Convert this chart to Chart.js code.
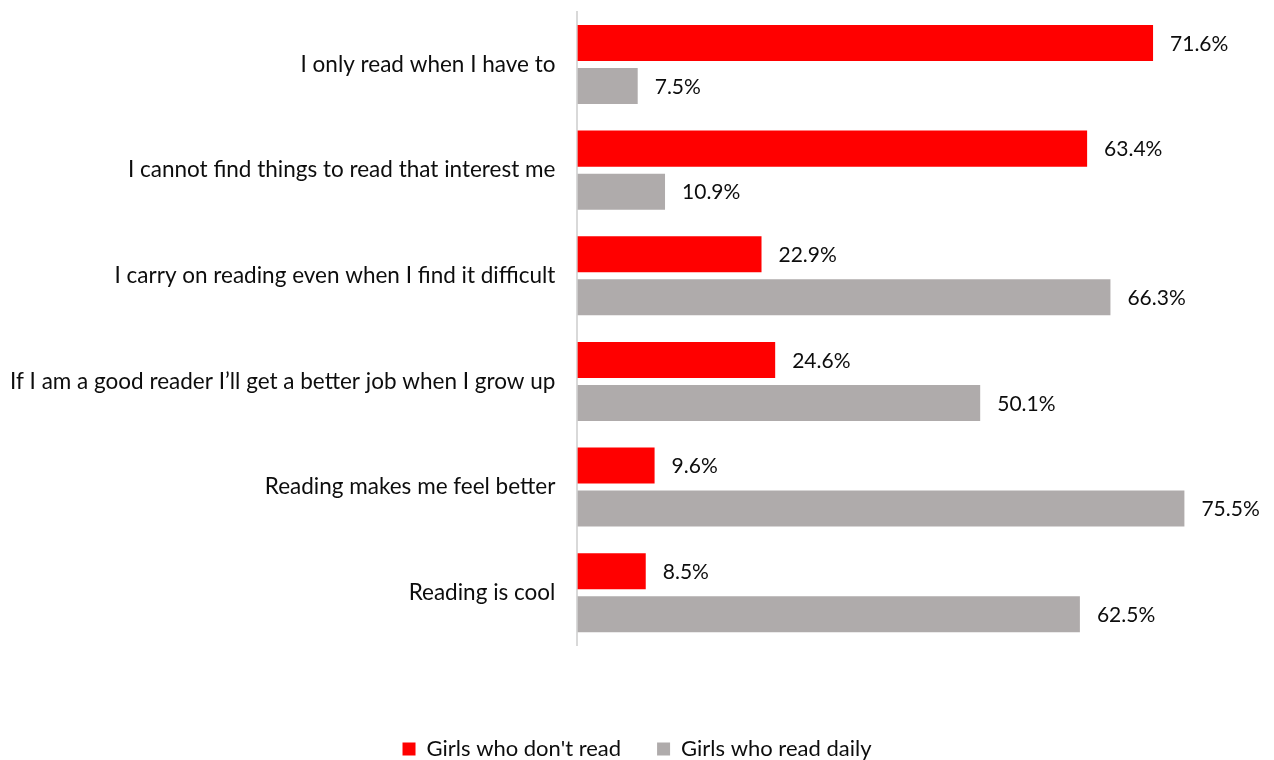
<!DOCTYPE html>
<html>
<head>
<meta charset="utf-8">
<script src="https://cdn.jsdelivr.net/npm/chart.js@4/dist/chart.umd.min.js"></script>
<style>
  html, body { margin: 0; padding: 0; background: #fff; }
  #wrap { width: 1274px; height: 760px; }
</style>
</head>
<body>
<div id="wrap"><canvas id="barChart" width="1274" height="760"></canvas></div>
<script>
// categories + series (percent)
const categories = [
  "I only read when I have to",
  "I cannot find things to read that interest me",
  "I carry on reading even when I find it difficult",
  "If I am a good reader I\u2019ll get a better job when I grow up",
  "Reading makes me feel better",
  "Reading is cool"
];
const dontRead = [71.6, 63.4, 22.9, 24.6, 9.6, 8.5];
const readDaily = [7.5, 10.9, 66.3, 50.1, 75.5, 62.5];

const FONT = "Lato, 'Open Sans', sans-serif";

// value labels at the end of each bar
const valueLabels = {
  id: "valueLabels",
  afterDatasetsDraw(chart) {
    const ctx = chart.ctx;
    ctx.save();
    ctx.font = "21px " + FONT;
    ctx.fillStyle = "#0d0d0d";
    ctx.textAlign = "left";
    ctx.textBaseline = "middle";
    chart.data.datasets.forEach((ds, i) => {
      const meta = chart.getDatasetMeta(i);
      meta.data.forEach((bar, j) => {
        ctx.fillText(ds.data[j].toFixed(1) + "%", bar.x + 17, bar.y + 1);
      });
    });
    ctx.restore();
  },
};

const ctx = document.getElementById("barChart").getContext("2d");
new Chart(ctx, {
  type: "bar",
  data: {
    labels: categories,
    datasets: [
      {
        label: "Girls who don't read",
        data: dontRead,
        backgroundColor: "#ff0000",
        barPercentage: 0.837,
        categoryPercentage: 0.815,
      },
      {
        label: "Girls who read daily",
        data: readDaily,
        backgroundColor: "#afabab",
        barPercentage: 0.837,
        categoryPercentage: 0.815,
      },
    ],
  },
  options: {
    indexAxis: "y",
    responsive: false,
    animation: false,
    layout: { padding: { top: 11.7, right: 10, left: 10, bottom: -10 } },
    plugins: {
      legend: {
        position: "bottom",
        labels: {
          boxWidth: 13,
          boxHeight: 13,
          padding: 36,
          color: "#0d0d0d",
          font: { family: FONT, size: 22 },
        },
      },
      tooltip: { enabled: false },
    },
    scales: {
      x: {
        min: 0,
        max: 85.4,
        display: true,
        ticks: { display: false },
        grid: { display: false },
        border: { display: false },
        afterFit(scale) {
          scale.height = 56.5;
        },
      },
      y: {
        ticks: {
          color: "#0d0d0d",
          padding: 0,
          font: { family: FONT, size: 22.5, lineHeight: 0.7 },
        },
        grid: { display: false, drawTicks: true, tickLength: 22 },
        border: { color: "#d9d9d9", width: 2 },
      },
    },
  },
  plugins: [valueLabels],
});
</script>
</body>
</html>
